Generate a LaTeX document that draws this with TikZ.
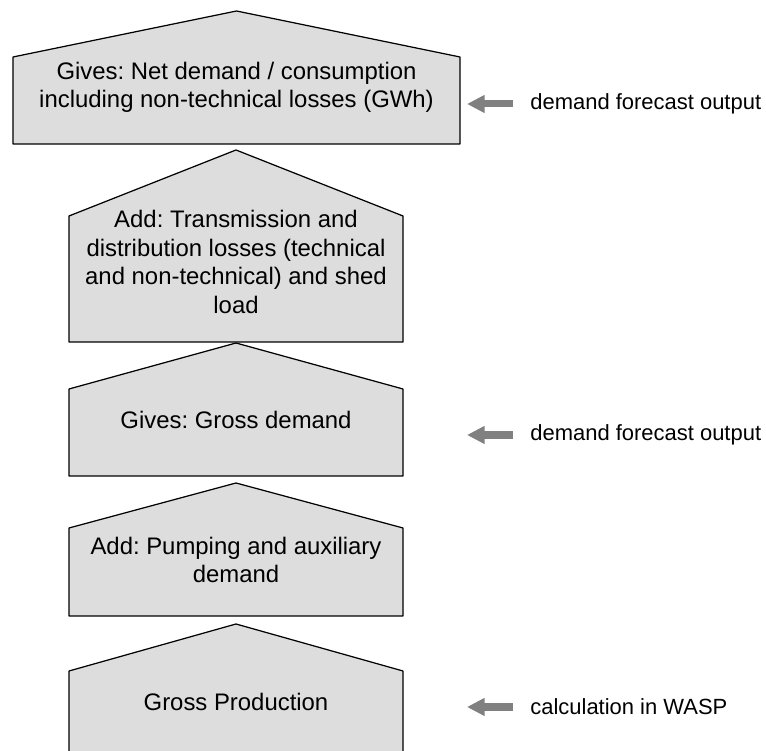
\documentclass[tikz,border=0pt]{standalone}
\usepackage{tkz-euclide, tikz, xcolor}
\usepackage{fontspec}
\setmainfont{Liberation Sans}
\frenchspacing
\usetikzlibrary{arrows.meta, calc}
\definecolor{boxgray}{HTML}{DDDDDD}
\definecolor{arrowgray}{HTML}{808080}
\tikzset{steptext/.style = {align=center, inner sep=0pt, font=\fontsize{13.6}{16.2}\selectfont},
  sidetext/.style = {anchor=west, inner sep=0pt, font=\fontsize{12.5}{16.2}\selectfont},
  fcarrow/.style = {arrowgray, line width=4pt, -{Triangle[length=10pt, width=9.6pt]}}}

\begin{document}
\begin{tikzpicture}
\clip (0,0) rectangle (15.32,15.02);
\tkzDefPoints{0.26/12.14/A1, 0.26/13.88/B1, 4.73/14.80/C1, 9.20/13.88/D1, 9.20/12.14/E1}
\tkzDefPoints{1.38/8.18/A2, 1.38/10.70/B2, 4.72/12.02/C2, 8.06/10.70/D2, 8.06/8.18/E2}
\tkzDefPoints{1.38/5.50/A3, 1.38/7.24/B3, 4.72/8.16/C3, 8.06/7.24/D3, 8.06/5.50/E3}
\tkzDefPoints{1.38/2.70/A4, 1.38/4.46/B4, 4.72/5.36/C4, 8.06/4.46/D4, 8.06/2.70/E4}
\tkzDefPoints{1.38/-0.5/A5, 1.38/1.60/B5, 4.72/2.54/C5, 8.06/1.60/D5, 8.06/-0.5/E5}
\tkzDrawPolygon[fill=boxgray, line width=0.7pt](A1,B1,C1,D1,E1)
\tkzDrawPolygon[fill=boxgray, line width=0.7pt](A2,B2,C2,D2,E2)
\tkzDrawPolygon[fill=boxgray, line width=0.7pt](A3,B3,C3,D3,E3)
\tkzDrawPolygon[fill=boxgray, line width=0.7pt](A4,B4,C4,D4,E4)
\tkzDrawPolygon[fill=boxgray, line width=0.7pt](A5,B5,C5,D5,E5)
% texts in the steps
\node[steptext] (net) at (4.73,13.27) {Gives: Net demand / consumption\\including non-technical losses (GWh)};
\node[steptext] (losses) at (4.72,9.78) {Add: Transmission and\\distribution losses (technical\\and non-technical) and shed\\load};
\node[steptext] (gross) at (4.72,6.62) {Gives: Gross demand};
\node[steptext] (pump) at (4.72,3.82) {Add: Pumping and auxiliary\\demand};
\node[steptext] (prod) at (4.72,0.98) {Gross Production};
% side notes
\node[sidetext] (fc1) at (10.60,12.94) {demand forecast output};
\node[sidetext] (fc2) at (10.60,6.32) {demand forecast output};
\node[sidetext] (wasp) at (10.60,0.88) {calculation in WASP};
\coordinate (t1) at (9.34,12.94);
\coordinate (t2) at (9.34,6.32);
\coordinate (t3) at (9.34,0.88);
\draw[fcarrow] ([xshift=-0.34cm]fc1.west) -- (t1);
\draw[fcarrow] ([xshift=-0.34cm]fc2.west) -- (t2);
\draw[fcarrow] ([xshift=-0.34cm]wasp.west) -- (t3);
\end{tikzpicture}
\end{document}
